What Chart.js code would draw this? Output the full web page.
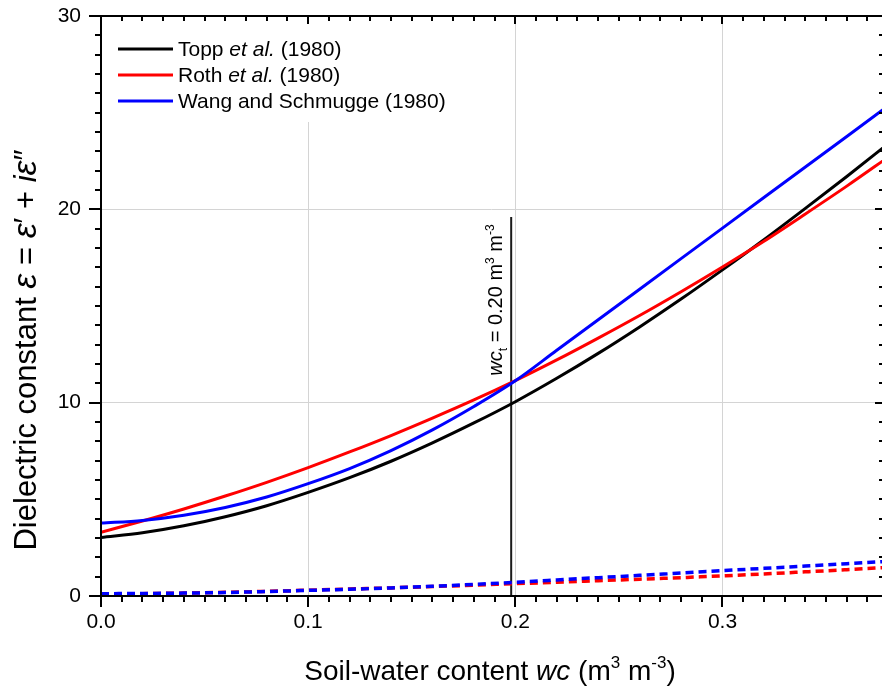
<!DOCTYPE html>
<html>
<head>
<meta charset="utf-8">
<script src="https://cdn.jsdelivr.net/npm/chart.js@4.4.1/dist/chart.umd.min.js"></script>
<style>
  html, body { margin: 0; padding: 0; background: #fff; }
  #wrap { width: 882px; height: 698px; }
</style>
</head>
<body>
<div id="wrap"><canvas id="chart" width="882" height="698"></canvas></div>
<script>
const FONT = 'Arial, "Liberation Sans", Helvetica, sans-serif';

// soil-water content wc (m3 m-3)
const wc = [0, 0.02, 0.04, 0.06, 0.08, 0.10, 0.12, 0.14, 0.16, 0.18,
            0.20, 0.22, 0.24, 0.26, 0.28, 0.30, 0.32, 0.34, 0.36, 0.38];

// real part of the dielectric constant
const toppReal = [3.03, 3.27, 3.63, 4.10, 4.67, 5.36, 6.12, 6.97, 7.92, 8.95,
                  10.05, 11.26, 12.55, 13.92, 15.36, 16.87, 18.43, 20.05, 21.70, 23.40];
const rothReal = [3.30, 3.88, 4.50, 5.17, 5.88, 6.64, 7.45, 8.30, 9.20, 10.14,
                  11.14, 12.21, 13.34, 14.51, 15.74, 17.02, 18.35, 19.76, 21.20, 22.70];
const wangReal = [3.77, 3.91, 4.18, 4.58, 5.12, 5.81, 6.59, 7.52, 8.59, 9.80,
                  11.13, 12.71, 14.29, 15.87, 17.45, 19.03, 20.61, 22.19, 23.77, 25.35];

// imaginary part (dashed)
const rothImag = [0.10, 0.12, 0.15, 0.19, 0.24, 0.30, 0.36, 0.42, 0.49, 0.56,
                  0.64, 0.71, 0.79, 0.87, 0.95, 1.04, 1.14, 1.25, 1.36, 1.48];
const wangImag = [0.12, 0.13, 0.15, 0.18, 0.23, 0.29, 0.35, 0.42, 0.50, 0.60,
                  0.71, 0.83, 0.95, 1.07, 1.19, 1.31, 1.43, 1.55, 1.67, 1.79];

const xTicks = [0, 0.1, 0.2, 0.3];
const yTicks = [0, 10, 20, 30];
const xMin = 0, xMax = 0.377;
const yMin = 0, yMax = 30;

// transition moisture marker
const wcT = 0.198;
const wcTLineTop = 19.6;

const pts = ys => wc.map((x, i) => ({ x: x, y: ys[i] }));

// text with italic / sub / sup runs, drawn from a left baseline point
function runFont(p, size) {
    let s = size;
    if (p.sub || p.sup) s = Math.round(size * 0.62);
    if (p.big) s = Math.round(size * 1.1);
    return (p.it ? 'italic ' : '') + s + 'px ' + FONT;
}
function richWidth(ctx, parts, size) {
    let w = 0;
    parts.forEach(p => { ctx.font = runFont(p, size); w += ctx.measureText(p.t).width; });
    return w;
}
function drawRich(ctx, parts, x, y, size) {
    ctx.textAlign = 'left';
    ctx.textBaseline = 'alphabetic';
    parts.forEach(p => {
        ctx.font = runFont(p, size);
        let dy = 0;
        if (p.sub) dy = size * 0.25;
        if (p.sup) dy = -size * 0.42;
        ctx.fillText(p.t, x, y + dy);
        x += ctx.measureText(p.t).width;
    });
}

const legendItems = [
    { color: '#000000', parts: [{ t: 'Topp ' }, { t: 'et al.', it: 1 }, { t: ' (1980)' }] },
    { color: '#ff0000', parts: [{ t: 'Roth ' }, { t: 'et al.', it: 1 }, { t: ' (1980)' }] },
    { color: '#0000ff', parts: [{ t: 'Wang and Schmugge (1980)' }] }
];

const framePlugin = {
    id: 'frame',
    beforeDatasetsDraw(chart) {
        const { ctx, chartArea: a } = chart;
        // legend sits on a white box over the grid
        ctx.save();
        ctx.fillStyle = '#ffffff';
        ctx.fillRect(a.left + 1, a.top + 1, 380, 105);
        ctx.restore();
    },
    afterDraw(chart) {
        const { ctx, chartArea: a } = chart;
        const xs = chart.scales.x, ys = chart.scales.y;
        ctx.save();
        ctx.strokeStyle = '#000';
        ctx.fillStyle = '#000';
        ctx.lineWidth = 2;

        // axis lines
        ctx.beginPath();
        ctx.moveTo(a.left, a.top - 1); ctx.lineTo(a.left, a.bottom + 1);
        ctx.moveTo(a.left - 1, a.bottom); ctx.lineTo(a.right + 1, a.bottom);
        ctx.moveTo(a.left - 1, a.top); ctx.lineTo(a.right + 1, a.top);
        ctx.moveTo(a.right + 1, a.top); ctx.lineTo(a.right + 1, a.bottom);
        ctx.stroke();

        // x ticks every 0.01: outward at the bottom, inward at the top
        ctx.beginPath();
        for (let k = 0; k <= 37; k++) {
            const px = Math.round(xs.getPixelForValue(k / 100));
            const major = k % 10 === 0;
            ctx.moveTo(px, a.bottom); ctx.lineTo(px, a.bottom + (major ? 11 : 6));
            ctx.moveTo(px, a.top); ctx.lineTo(px, a.top + (major ? 8 : 5));
        }
        // y ticks every 1: outward on the left, inward on the right
        for (let k = 0; k <= 30; k++) {
            const py = Math.round(ys.getPixelForValue(k));
            const major = k % 10 === 0;
            ctx.moveTo(a.left - (major ? 12 : 6), py); ctx.lineTo(a.left, py);
            ctx.moveTo(a.right - (major ? 7 : 3), py); ctx.lineTo(a.right, py);
        }
        ctx.stroke();

        // legend
        legendItems.forEach((item, i) => {
            const y = a.top + 33 + i * 26;
            ctx.strokeStyle = item.color;
            ctx.lineWidth = 3;
            ctx.beginPath();
            ctx.moveTo(a.left + 17, y); ctx.lineTo(a.left + 72, y);
            ctx.stroke();
            ctx.fillStyle = '#000';
            drawRich(ctx, item.parts, a.left + 77, y + 7, 21);
        });

        // marker label
        const ann = [{ t: 'wc', it: 1 }, { t: 't', sub: 1 }, { t: ' = 0.20 m' },
                     { t: '3', sup: 1 }, { t: ' m' }, { t: '-3', sup: 1 }];
        const annW = richWidth(ctx, ann, 20);
        ctx.save();
        ctx.translate(xs.getPixelForValue(wcT) - 9, 300 + annW / 2);
        ctx.rotate(-Math.PI / 2);
        drawRich(ctx, ann, 0, 0, 20);
        ctx.restore();

        // x title
        const xt = [{ t: 'Soil-water content ' }, { t: 'wc', it: 1 }, { t: ' (m' },
                    { t: '3', sup: 1 }, { t: ' m' }, { t: '-3', sup: 1 }, { t: ')' }];
        const xtW = richWidth(ctx, xt, 28);
        drawRich(ctx, xt, 490 - xtW / 2, 680, 28);

        // y title
        const yt = [{ t: 'Dielectric constant ' }, { t: 'ε', it: 1, big: 1 }, { t: ' = ' },
                    { t: 'ε', it: 1, big: 1 }, { t: '′ ' }, { t: '+ ' }, { t: 'i', it: 1 },
                    { t: 'ε', it: 1, big: 1 }, { t: '″' }];
        const ytW = richWidth(ctx, yt, 31);
        ctx.save();
        ctx.translate(36, 350 + ytW / 2);
        ctx.rotate(-Math.PI / 2);
        drawRich(ctx, yt, 0, 0, 31);
        ctx.restore();

        ctx.restore();
    }
};

const lineBase = { pointRadius: 0, fill: false, cubicInterpolationMode: 'monotone' };

new Chart(document.getElementById('chart'), {
    type: 'line',
    data: {
        datasets: [
            { ...lineBase, label: 'Wang imag', data: pts(wangImag), borderColor: '#0000ff', borderWidth: 3.5, borderDash: [8, 5], order: 1 },
            { ...lineBase, label: 'Roth imag', data: pts(rothImag), borderColor: '#ff0000', borderWidth: 3.5, borderDash: [8, 5], order: 2 },
            { ...lineBase, label: 'Wang and Schmugge (1980)', data: pts(wangReal), borderColor: '#0000ff', borderWidth: 3, order: 3 },
            { ...lineBase, label: 'Roth et al. (1980)', data: pts(rothReal), borderColor: '#ff0000', borderWidth: 3, order: 4 },
            { ...lineBase, label: 'Topp et al. (1980)', data: pts(toppReal), borderColor: '#000000', borderWidth: 3, order: 5 },
            { ...lineBase, label: 'wct', data: [{ x: wcT, y: 0 }, { x: wcT, y: wcTLineTop }], borderColor: '#1a1a1a', borderWidth: 2, order: 6 }
        ]
    },
    options: {
        responsive: false,
        animation: false,
        devicePixelRatio: 1,
        layout: { padding: { top: 16, right: 0, bottom: 0, left: 0 } },
        plugins: { legend: { display: false }, tooltip: { enabled: false } },
        scales: {
            x: {
                type: 'linear', min: xMin, max: xMax,
                afterBuildTicks: s => { s.ticks = xTicks.map(v => ({ value: v })); },
                afterFit: s => { s.height = 102; s.paddingLeft = 0; s.paddingRight = 0; },
                border: { display: false },
                grid: {
                    drawTicks: false, lineWidth: 1,
                    color: c => (c.tick && c.tick.value > 0) ? '#d4d4d4' : 'rgba(0,0,0,0)'
                },
                ticks: {
                    color: '#000', padding: 14, maxRotation: 0, autoSkip: false,
                    font: { family: FONT, size: 21 },
                    callback: v => v.toFixed(1)
                }
            },
            y: {
                type: 'linear', min: yMin, max: yMax,
                afterBuildTicks: s => { s.ticks = yTicks.map(v => ({ value: v })); },
                afterFit: s => { s.width = 101; s.paddingTop = 0; s.paddingBottom = 0; },
                border: { display: false },
                grid: {
                    drawTicks: false, lineWidth: 1,
                    color: c => (c.tick && c.tick.value > 0 && c.tick.value < 30) ? '#d4d4d4' : 'rgba(0,0,0,0)'
                },
                ticks: {
                    color: '#000', padding: 20,
                    font: { family: FONT, size: 21 },
                    callback: v => String(v)
                }
            }
        }
    },
    plugins: [framePlugin]
});
</script>
</body>
</html>
